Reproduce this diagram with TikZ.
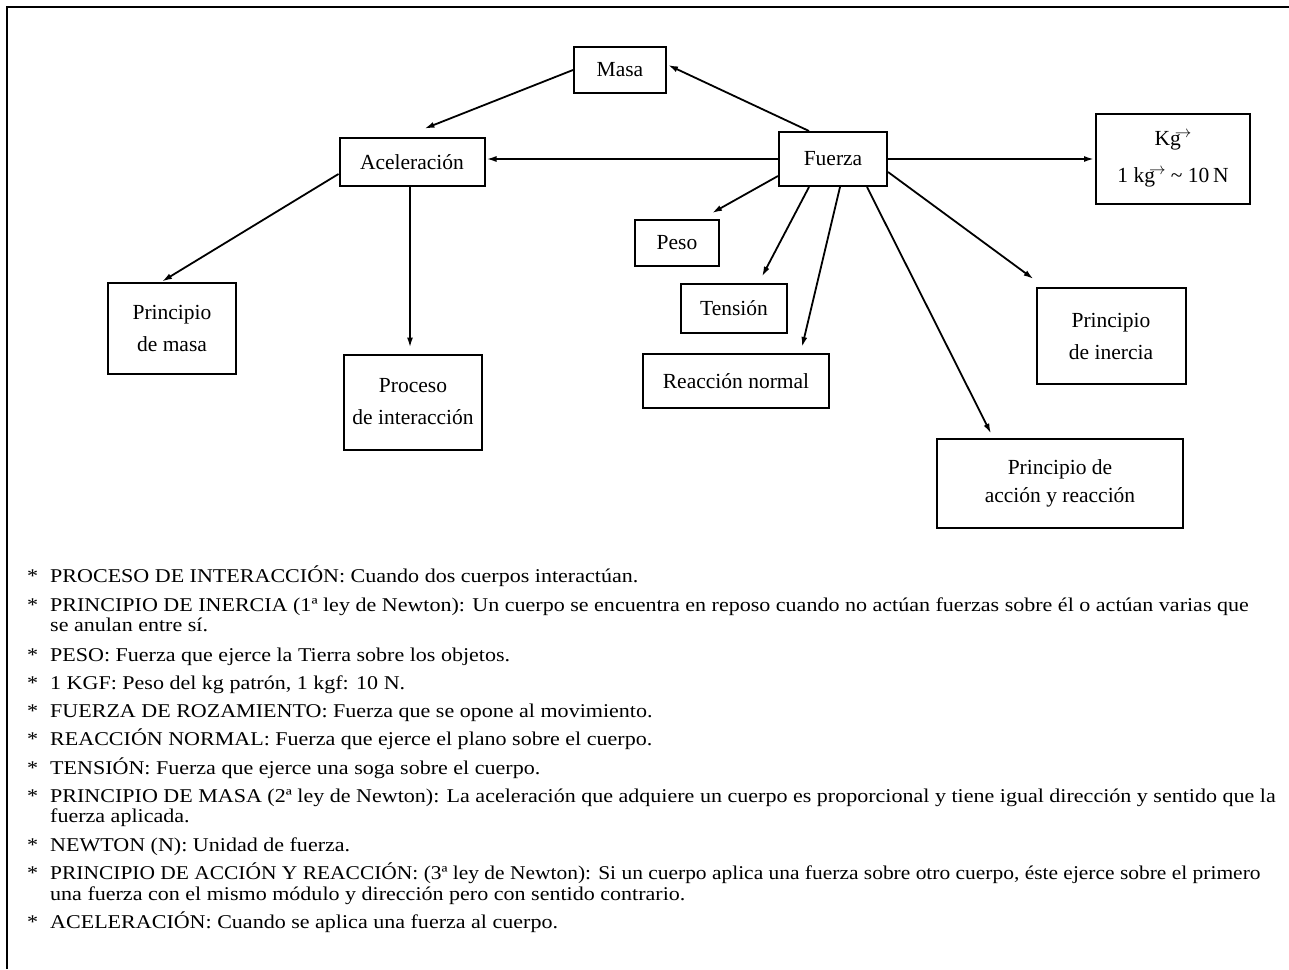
\documentclass[tikz,border=0pt]{standalone}
\usepackage{fontspec}
\setmainfont{Liberation Serif}
\newfontfamily\notefont{Liberation Serif}[FakeStretch=1.13]
\newfontfamily\notefontn{Liberation Serif}[FakeStretch=1.10]
\usetikzlibrary{arrows.meta,calc}
\newcommand\vecg{g\kern-0.28em\raisebox{0.85ex}{\scalebox{0.8}{$\rightarrow$}}}
\begin{document}
\begin{tikzpicture}[x=1pt,y=-1pt,
  box/.style={draw,line width=2pt,inner sep=0pt,align=center,font=\fontsize{21.5}{32}\selectfont},
  arr/.style={line width=1.8pt,-{Latex[length=10pt,width=6pt]}},
  note/.style={anchor=base west,inner sep=0pt,font=\notefont\fontsize{19.5}{20}\selectfont},
  star/.style={anchor=base west,inner sep=0pt,font=\notefont\fontsize{19.5}{20}\selectfont}]
\useasboundingbox (0,0) rectangle (1289,969);
\draw[line width=2pt] (7,969) -- (7,6.5) -- (1289,6.5);

\node[box,minimum width=92pt,minimum height=46pt] (masa) at (620,70) {Masa};
\node[box,minimum width=145pt,minimum height=48pt] (acel) at (412,162) {Aceleración};
\node[box,minimum width=108pt,minimum height=54pt] (fuerza) at (833,159) {Fuerza};
\node[box,minimum width=154pt,minimum height=90pt,font=\fontsize{21.5}{37}\selectfont] (kg) at (1173,159) {K\vecg\\1 k\vecg\ \textasciitilde\ 10\,N};
\node[box,minimum width=84pt,minimum height=46pt] (peso) at (677,243) {Peso};
\node[box,minimum width=106pt,minimum height=49pt] (tension) at (734,308) {Tensión};
\node[box,minimum width=186pt,minimum height=54pt] (reac) at (736,381) {Reacción normal};
\node[box,minimum width=128pt,minimum height=91pt] (pmasa) at (172,328) {Principio\\de masa};
\node[box,minimum width=138pt,minimum height=95pt] (proc) at (413,402) {Proceso\\de interacción};
\node[box,minimum width=149pt,minimum height=96pt] (inercia) at (1111,336) {Principio\\de inercia};
\node[box,minimum width=246pt,minimum height=89pt,font=\fontsize{21.5}{28}\selectfont] (accion) at (1060,483) {Principio de\\acción y reacción};

\draw[arr,shorten >=1pt] (masa.west) -- ($(acel.north west)+(85,-8)$);
\draw[arr] ($(fuerza.north west)+(31,0)$) -- ($(masa.east)+(1,-5)$);
\draw[arr,shorten >=1pt] (fuerza.west) -- (fuerza.west -| acel.east);
\draw[arr,shorten >=1pt] (fuerza.east) -- (fuerza.east -| kg.west);
\draw[arr] ($(acel.west)+(0,12)$) -- ($(pmasa.north west)+(55,0)$);
\draw[arr,shorten >=6pt] ($(acel.south)+(-2,0)$) -- ($(proc.north)+(-3,0)$);
\draw[arr] ($(fuerza.west)+(0,17)$) -- ($(peso.north east)+(-8,-6)$);
\draw[arr] ($(fuerza.south west)+(31,0)$) -- ($(tension.north)+(28,-6)$);
\draw[arr] ($(fuerza.south)+(7,0)$) -- ($(reac.north)+(66,-6)$);
\draw[arr] ($(fuerza.east)+(0,13)$) -- ($(inercia.north west)+(-2,-8)$);
\draw[arr] ($(fuerza.south east)+(-21,0)$) -- ($(accion.north west)+(55,-4)$);

\foreach \i/\y in {1/582,2/611,3/661,4/689,5/717,6/745.5,7/774,8/802,9/851,10/879.5,11/928.5}
  \node[star] (s\i) at (27,\y) {*};
\node[note] (n1) at (50,582) {PROCESO DE INTERACCIÓN: Cuando dos cuerpos interactúan.};
\node[note] (n2) at (50,611) {PRINCIPIO DE INERCIA (1ª ley de Newton): Un cuerpo se encuentra en reposo cuando no actúan fuerzas sobre él o actúan varias que};
\node[note] (n2b) at (50,631.5) {se anulan entre sí.};
\node[note] (n3) at (50,661) {PESO: Fuerza que ejerce la Tierra sobre los objetos.};
\node[note] (n4) at (50,689) {1 KGF: Peso del kg patrón, 1 kgf: 10 N.};
\node[note] (n5) at (50,717) {FUERZA DE ROZAMIENTO: Fuerza que se opone al movimiento.};
\node[note] (n6) at (50,745.5) {REACCIÓN NORMAL: Fuerza que ejerce el plano sobre el cuerpo.};
\node[note] (n7) at (50,774) {TENSIÓN: Fuerza que ejerce una soga sobre el cuerpo.};
\node[note] (n8) at (50,802) {PRINCIPIO DE MASA (2ª ley de Newton): La aceleración que adquiere un cuerpo es proporcional y tiene igual dirección y sentido que la};
\node[note] (n8b) at (50,822.5) {fuerza aplicada.};
\node[note] (n9) at (50,851) {NEWTON (N): Unidad de fuerza.};
\node[note,font=\notefontn\fontsize{19.5}{20}\selectfont] (n10) at (50,879.5) {PRINCIPIO DE ACCIÓN Y REACCIÓN: (3ª ley de Newton): Si un cuerpo aplica una fuerza sobre otro cuerpo, éste ejerce sobre el primero};
\node[note] (n10b) at (50,900) {una fuerza con el mismo módulo y dirección pero con sentido contrario.};
\node[note] (n11) at (50,928.5) {ACELERACIÓN: Cuando se aplica una fuerza al cuerpo.};
\end{tikzpicture}
\end{document}
